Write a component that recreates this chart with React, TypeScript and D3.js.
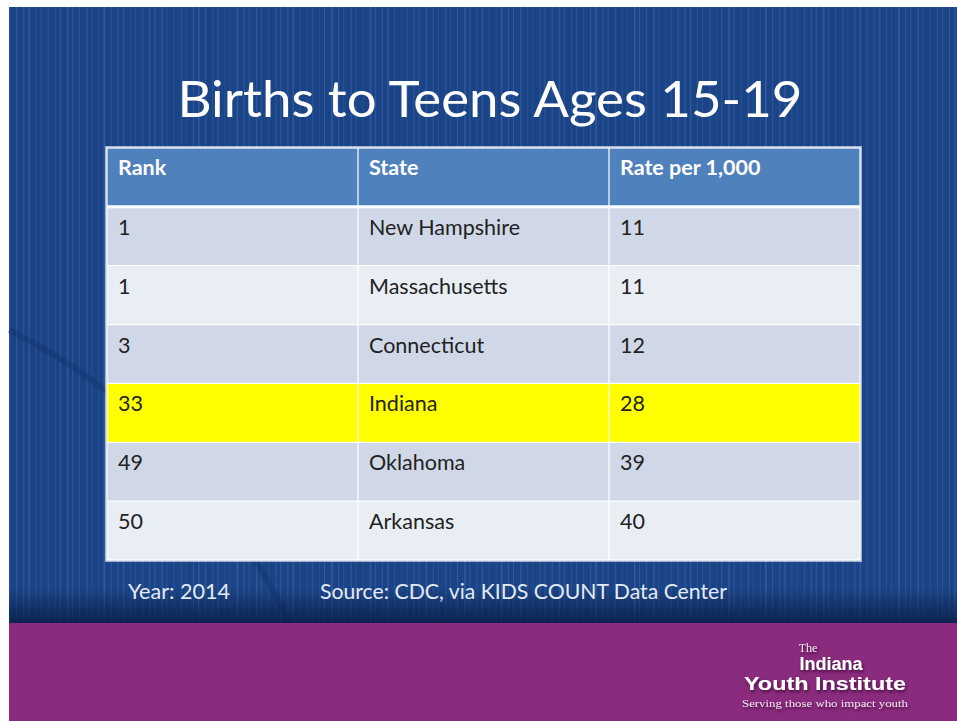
import React from "react";
import * as d3 from "d3";

const titleText = "Births to Teens Ages 15-19";
const headers = ["Rank", "State", "Rate per 1,000"];
const ranks = ["1", "1", "3", "33", "49", "50"];
const states = ["New Hampshire", "Massachusetts", "Connecticut", "Indiana", "Oklahoma", "Arkansas"];
const rates = ["11", "11", "12", "28", "39", "40"];
const highlightState = "Indiana";
const yearNote = "Year: 2014";
const sourceNote = "Source: CDC, via KIDS COUNT Data Center";
const logoLines = ["The", "Indiana", "Youth Institute", "Serving those who impact youth"];

const W = 957;
const H = 721;
const FONT = "Lato, 'Open Sans', sans-serif";

export default function App() {
  const rowKeys = ["header", ...states];
  const y = d3.scaleBand<string>().domain(rowKeys).range([148, 560]).paddingInner(0);
  const x = d3.scaleBand<string>().domain(headers).range([107, 860]);
  const rows = states.map((s, i) => [ranks[i], s, rates[i]]);
  const stripeXs = d3.range(9, W, 6.3);

  return (
    <div style={{ position: "fixed", left: 0, top: 0 }}>
      <svg width={W} height={H} style={{ display: "block" }}>
        <defs>
          <linearGradient id="shade" x1="0" y1="0" x2="0" y2="1">
            <stop offset="0" stopColor="#0a1e48" stopOpacity="0" />
            <stop offset="1" stopColor="#0a1e48" stopOpacity="0.9" />
          </linearGradient>
          <filter id="logoShadow" x="-10%" y="-30%" width="120%" height="160%">
            <feDropShadow dx="1" dy="2" stdDeviation="1.5" floodColor="#3a0a35" floodOpacity="0.9" />
          </filter>
        </defs>
        <rect x={0} y={0} width={W} height={H} fill="#ffffff" />
        <rect x={9} y={7} width={W - 9} height={616} fill="#1b4486" />
        {stripeXs.map((sx, i) => (
          <rect key={i} x={sx + ((i * 37) % 5) * 0.4} y={7} width={i % 3 === 0 ? 1.6 : 1} height={616}
            fill="#3866aa" opacity={0.35 + ((i * 13) % 7) * 0.06} />
        ))}
        <path d="M 9 330 Q 190 420 290 623" stroke="#0f2c62" strokeOpacity={0.35} strokeWidth={6} fill="none" />
        <rect x={9} y={588} width={W - 9} height={35} fill="url(#shade)" />
        <rect x={9} y={623} width={W - 9} height={98} fill="#8a2b7d" />

        <text x={490} y={117} textAnchor="middle" fill="#ffffff" fontFamily={FONT}
          fontSize={51} textLength={625} lengthAdjust="spacingAndGlyphs">{titleText}</text>

        {/* table */}
        <rect x={105} y={146} width={757} height={416} fill="#ffffff" opacity={0.6} />
        {headers.map((h) => (
          <g key={h}>
            <rect x={x(h)!} y={y("header")!} width={x.bandwidth()} height={y.bandwidth()} fill="#4f81bd" />
            <text x={x(h)! + 11} y={y("header")! + 27} fill="#ffffff" fontWeight="bold"
              fontFamily={FONT} fontSize={21.5}>{h}</text>
          </g>
        ))}
        {rows.map((r, i) => {
          const hl = states[i] === highlightState;
          const fill = hl ? "#ffff00" : i % 2 === 0 ? "#d0d8e8" : "#e9edf4";
          return (
            <g key={i}>
              {r.map((v, j) => (
                <g key={j}>
                  <rect x={x(headers[j])!} y={y(states[i])!} width={x.bandwidth()} height={y.bandwidth()} fill={fill} />
                  <text x={x(headers[j])! + 11} y={y(states[i])! + 28} fill="#222222"
                    fontFamily={FONT} fontSize={21.5}>{v}</text>
                </g>
              ))}
            </g>
          );
        })}
        {/* white grid lines */}
        {headers.slice(1).map((h) => (
          <line key={h} x1={x(h)!} x2={x(h)!} y1={148} y2={560} stroke="#ffffff" strokeWidth={1.2} />
        ))}
        {states.map((s, i) => (
          <line key={s} x1={107} x2={860} y1={y(s)!} y2={y(s)!} stroke="#ffffff" strokeWidth={i === 0 ? 3 : 1.2} />
        ))}
        <rect x={107} y={148} width={753} height={412} fill="none" stroke="#ffffff" strokeWidth={1.2} />

        <text x={128} y={599} fill="#e4eaf4" fontFamily={FONT} fontSize={21.5}
          textLength={102} lengthAdjust="spacingAndGlyphs">{yearNote}</text>
        <text x={320} y={599} fill="#e4eaf4" fontFamily={FONT} fontSize={21.5}
          textLength={407} lengthAdjust="spacingAndGlyphs">{sourceNote}</text>

        {/* logo */}
        <g filter="url(#logoShadow)" fill="#ffffff" textAnchor="middle">
          <text x={808} y={652} fontFamily="'Liberation Serif', serif" fontSize={12} fill="#f0e0ee">{logoLines[0]}</text>
          <text x={831} y={670} fontFamily="'Liberation Sans', Arial, sans-serif" fontWeight="bold" fontSize={18}>{logoLines[1]}</text>
          <text x={825} y={690} fontFamily="'Liberation Sans', Arial, sans-serif" fontWeight="bold" fontSize={18}
            textLength={162} lengthAdjust="spacingAndGlyphs">{logoLines[2]}</text>
          <text x={825} y={707} fontFamily="'Liberation Serif', serif" fontSize={10.5} fill="#f0e0ee"
            textLength={166} lengthAdjust="spacingAndGlyphs">{logoLines[3]}</text>
        </g>
      </svg>
    </div>
  );
}
